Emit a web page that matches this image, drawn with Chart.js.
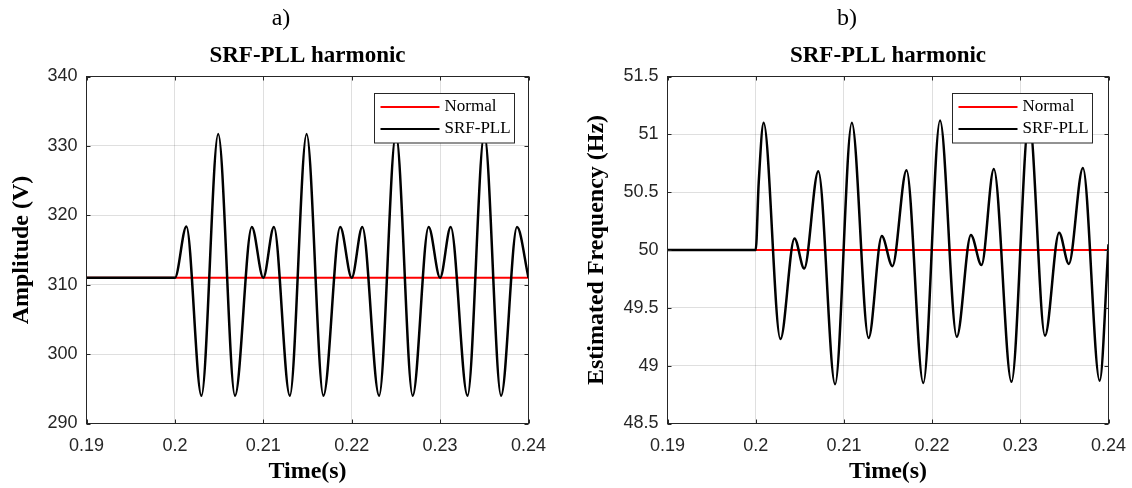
<!DOCTYPE html>
<html>
<head>
<meta charset="utf-8">
<title>SRF-PLL harmonic</title>
<script src="https://cdn.jsdelivr.net/npm/chart.js@4.4.1/dist/chart.umd.min.js"></script>
<style>
  body { margin: 0; background: #fff; }
  #wrap { position: relative; width: 1132px; height: 488px; }
  canvas { position: absolute; top: 0; }
  #ampChart { left: 0; }
  #freqChart { left: 560px; }
</style>
</head>
<body>
<div id="wrap">
  <canvas id="ampChart" width="560" height="488"></canvas>
  <canvas id="freqChart" width="572" height="488"></canvas>
</div>
<script>
// Time axis, shared by both panels
var timeTicks = [0.19, 0.2, 0.21, 0.22, 0.23, 0.24];
var timeTickLabels = ['0.19', '0.2', '0.21', '0.22', '0.23', '0.24'];

// a) Amplitude (V)
var ampNormalTime = [0.19, 0.24];
var ampNormal = [311, 311];
var ampPllTime = [0.19, 0.2, 0.2013, 0.2030, 0.2049, 0.2068, 0.2087, 0.2100, 0.2112, 0.2130,
                  0.2149, 0.2168, 0.2187, 0.2200, 0.2212, 0.2231, 0.2250, 0.2269, 0.2287, 0.2300,
                  0.2312, 0.2331, 0.2350, 0.2369, 0.2387, 0.2400];
var ampPll = [311, 311, 318.4, 294, 331.7, 294, 318.3, 311, 318.3, 294,
              331.7, 294, 318.3, 311, 318.3, 294, 331.7, 294, 318.3, 311,
              318.3, 294, 331.7, 294, 318.3, 311];
var ampTicks = [290, 300, 310, 320, 330, 340];
var ampTickLabels = ['290', '300', '310', '320', '330', '340'];

// b) Estimated Frequency (Hz)
var freqNormalTime = [0.19, 0.24];
var freqNormal = [50, 50];
var freqPllTime = [0.19, 0.2, 0.20034, 0.2009, 0.2028, 0.2044, 0.2055, 0.2071, 0.2090, 0.2109,
                   0.2128, 0.2143, 0.2155, 0.2171, 0.2190, 0.2209, 0.2228, 0.2244, 0.2256, 0.2270,
                   0.2290, 0.2310, 0.2328, 0.2344, 0.2355, 0.2371, 0.2390, 0.2400];
var freqPll = [50, 50, 50.58, 51.10, 49.23, 50.10, 49.84, 50.68, 48.84, 51.10,
               49.24, 50.12, 49.86, 50.69, 48.85, 51.12, 49.25, 50.13, 49.87, 50.70,
               48.86, 51.13, 49.26, 50.15, 49.88, 50.71, 48.87, 50.05];
var freqTicks = [48.5, 49, 49.5, 50, 50.5, 51, 51.5];
var freqTickLabels = ['48.5', '49', '49.5', '50', '50.5', '51', '51.5'];

var axisColor = '#262626';
var gridColor = 'rgba(38,38,38,0.15)';
var serif = '"Liberation Serif", "Times New Roman", serif';
var sans = '"Liberation Sans", Arial, sans-serif';

function toPoints(xs, ys) {
    var pts = [];
    for (var i = 0; i < xs.length; i++) {
        pts.push({x: xs[i], y: ys[i]});
    }
    return pts;
}

// box, inward ticks, legend and titles in the MATLAB style
var matlabFrame = {
    id: 'matlabFrame',
    afterDraw: function(chart, args, opts) {
        var ctx = chart.ctx;
        var ca = chart.chartArea;
        var xs = chart.scales.x, ys = chart.scales.y;
        ctx.save();

        // inward tick marks on all four sides
        ctx.strokeStyle = axisColor;
        ctx.lineWidth = 1;
        ctx.beginPath();
        xs.ticks.forEach(function(t) {
            var px = Math.round(xs.getPixelForValue(t.value)) + 0.5;
            ctx.moveTo(px, ca.bottom); ctx.lineTo(px, ca.bottom - 4);
            ctx.moveTo(px, ca.top); ctx.lineTo(px, ca.top + 4);
        });
        ys.ticks.forEach(function(t) {
            var py = Math.round(ys.getPixelForValue(t.value)) + 0.5;
            ctx.moveTo(ca.left, py); ctx.lineTo(ca.left + 4, py);
            ctx.moveTo(ca.right, py); ctx.lineTo(ca.right - 4, py);
        });
        ctx.stroke();
        ctx.strokeRect(ca.left, ca.top, ca.right - ca.left, ca.bottom - ca.top);

        // legend box in the upper right corner
        var bw = 140, bh = 49.5;
        var bx = Math.round(ca.right - opts.legendRight - bw) + 0.5;
        var by = Math.round(ca.top + 16) + 0.5;
        ctx.fillStyle = '#fff';
        ctx.fillRect(bx, by, bw, bh);
        ctx.strokeStyle = axisColor;
        ctx.strokeRect(bx, by, bw, bh);
        ctx.font = '17px ' + serif;
        ctx.textBaseline = 'middle';
        ctx.textAlign = 'left';
        chart.data.datasets.forEach(function(ds, i) {
            var ly = by + 13.5 + i * 22;
            ctx.strokeStyle = ds.borderColor;
            ctx.lineWidth = 2.2;
            ctx.beginPath();
            ctx.moveTo(bx + 6, ly);
            ctx.lineTo(bx + 65, ly);
            ctx.stroke();
            ctx.fillStyle = '#000';
            ctx.fillText(ds.label, bx + 70, ly);
        });

        // panel letter and title
        ctx.fillStyle = '#000';
        ctx.textAlign = 'center';
        ctx.font = '24px ' + serif;
        ctx.fillText(opts.panel, opts.panelX, 19);
        ctx.font = 'bold 23px ' + serif;
        ctx.fillText(opts.title, (ca.left + ca.right) / 2, 56);
        ctx.restore();
    }
};

function makePanel(canvasId, cfg) {
    var el = document.getElementById(canvasId);
    if (!el) {
        console.error('Element #' + canvasId + ' not found');
        return null;
    }
    return new Chart(el.getContext('2d'), {
        type: 'line',
        data: {
            datasets: [{
                label: 'Normal',
                data: toPoints(cfg.normalX, cfg.normalY),
                borderColor: '#ff0000',
                borderWidth: 2.2,
                pointRadius: 0,
                fill: false,
                order: 1
            }, {
                label: 'SRF-PLL',
                data: toPoints(cfg.pllX, cfg.pllY),
                borderColor: '#000000',
                borderWidth: 2.5,
                pointRadius: 0,
                fill: false,
                cubicInterpolationMode: 'monotone',
                order: 0
            }]
        },
        plugins: [matlabFrame],
        options: {
            responsive: false,
            animation: false,
            layout: {
                padding: {left: 0, right: cfg.padRight, top: 76.5, bottom: 0}
            },
            plugins: {
                legend: {display: false},
                tooltip: {enabled: false},
                matlabFrame: {
                    panel: cfg.panel,
                    panelX: cfg.panelX,
                    title: 'SRF-PLL harmonic',
                    legendRight: cfg.legendRight
                }
            },
            scales: {
                x: {
                    type: 'linear',
                    min: 0.19,
                    max: 0.24,
                    afterBuildTicks: function(axis) {
                        axis.ticks = timeTicks.map(function(v) { return {value: v}; });
                    },
                    afterFit: function(axis) {
                        axis.height = 64.5;
                        axis.paddingLeft = 0;
                        axis.paddingRight = 0;
                    },
                    grid: {color: gridColor, drawTicks: false},
                    border: {display: false},
                    ticks: {
                        color: axisColor,
                        padding: 12,
                        maxRotation: 0,
                        font: {family: sans, size: 18},
                        callback: function(value, index) { return timeTickLabels[index]; }
                    },
                    title: {
                        display: true,
                        text: 'Time(s)',
                        color: '#000',
                        padding: {top: 0, bottom: 2},
                        font: {family: serif, size: 24, weight: 'bold'}
                    }
                },
                y: {
                    type: 'linear',
                    min: cfg.yTicks[0],
                    max: cfg.yTicks[cfg.yTicks.length - 1],
                    afterBuildTicks: function(axis) {
                        axis.ticks = cfg.yTicks.map(function(v) { return {value: v}; });
                    },
                    afterFit: function(axis) {
                        axis.width = cfg.yWidth;
                        axis.paddingTop = 0;
                        axis.paddingBottom = 0;
                    },
                    grid: {color: gridColor, drawTicks: false},
                    border: {display: false},
                    ticks: {
                        color: axisColor,
                        padding: 9,
                        font: {family: sans, size: 18},
                        callback: function(value, index) { return cfg.yTickLabels[index]; }
                    },
                    title: {
                        display: true,
                        text: cfg.yTitle,
                        color: '#000',
                        padding: {top: cfg.yTitlePad, bottom: 0},
                        font: {family: serif, size: 24, weight: 'bold'}
                    }
                }
            }
        }
    });
}

makePanel('ampChart', {
    normalX: ampNormalTime, normalY: ampNormal,
    pllX: ampPllTime, pllY: ampPll,
    yTicks: ampTicks, yTickLabels: ampTickLabels,
    yTitle: 'Amplitude (V)', yTitlePad: 7, yWidth: 86.5,
    padRight: 31.5, panel: 'a)', panelX: 281, legendRight: 14.5
});

makePanel('freqChart', {
    normalX: freqNormalTime, normalY: freqNormal,
    pllX: freqPllTime, pllY: freqPll,
    yTicks: freqTicks, yTickLabels: freqTickLabels,
    yTitle: 'Estimated Frequency (Hz)', yTitlePad: 22, yWidth: 107.5,
    padRight: 23.5, panel: 'b)', panelX: 287, legendRight: 16.5
});
</script>
</body>
</html>
